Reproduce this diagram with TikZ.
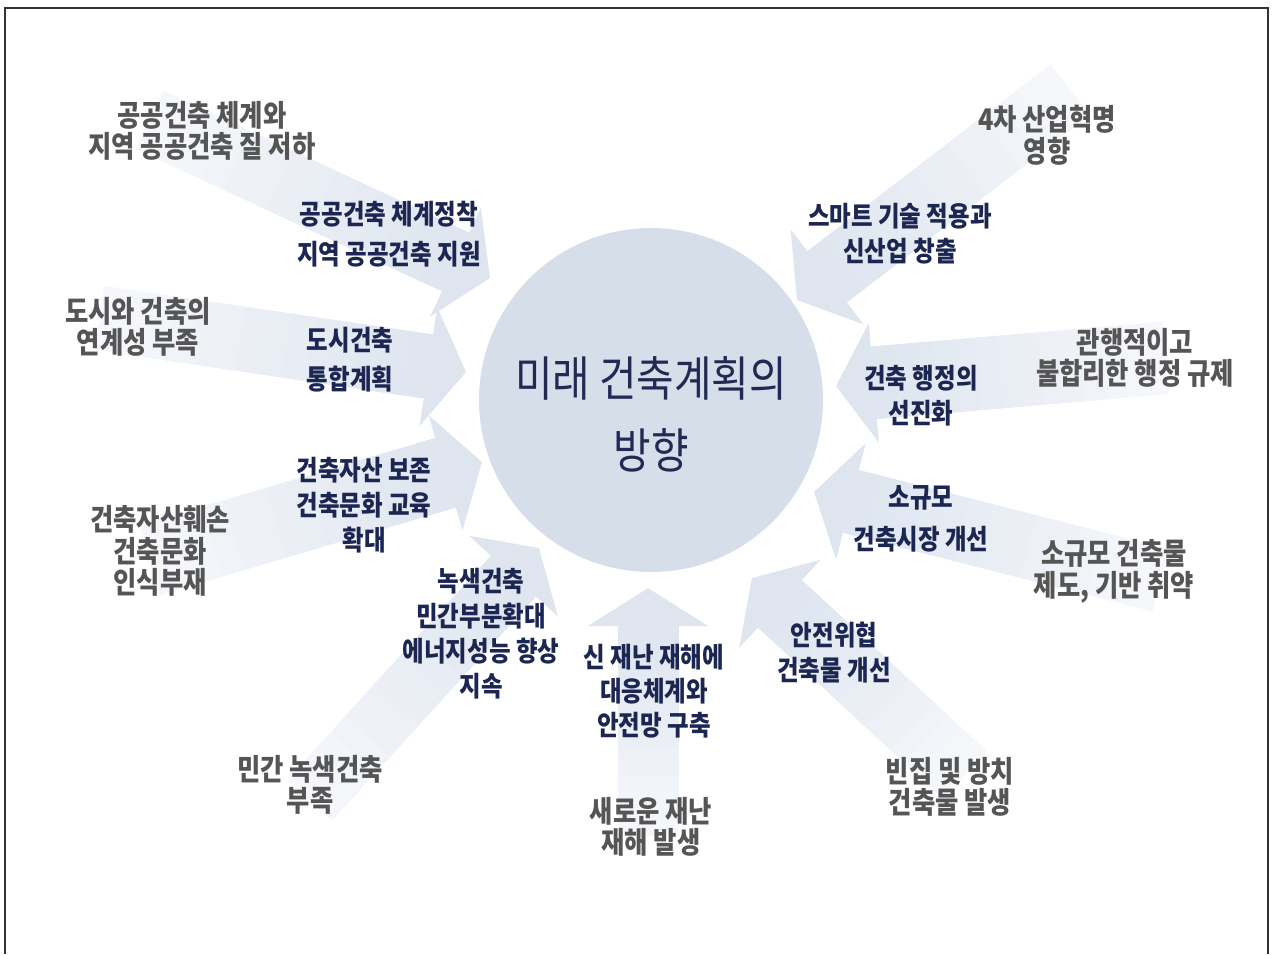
\documentclass[tikz,border=0pt]{standalone}
\usepackage{fontspec}
\newfontfamily\kr[FakeStretch=0.85]{Noto Sans CJK KR}
\usetikzlibrary{calc}
\definecolor{arrhead}{RGB}{222,229,239}
\definecolor{arrtail}{RGB}{246,248,251}
\definecolor{circ}{RGB}{214,222,234}
\definecolor{outc}{RGB}{85,85,85}
\definecolor{innc}{RGB}{28,38,82}
\definecolor{cenc}{RGB}{32,42,82}
% #1 half shaft width, #2 tail coordinate, #3 tip coordinate
\newcommand\bigarrow[3][16pt]{%
  \coordinate (tmpB) at ($(#3)!19pt!(#2)$);
  \fill[arrhead] ($(tmpB)!#1!90:(#3)$) -- ($(tmpB)!30pt!90:(#3)$) -- (#3)
    -- ($(tmpB)!30pt!-90:(#3)$) -- ($(tmpB)!#1!-90:(#3)$) -- cycle;
  \foreach \k in {0,...,13} {
    \pgfmathsetmacro\ka{\k/14}%
    \pgfmathsetmacro\kb{(\k+1)/14}%
    \pgfmathsetmacro\pc{100*(\k+0.5)/14}%
    \coordinate (sa) at ($(#2)!\ka!(tmpB)$);
    \coordinate (sb) at ($(#2)!\kb!(tmpB)$);
    \fill[arrhead!\pc!arrtail, draw=arrhead!\pc!arrtail, line width=0.4pt]
      ($(sa)!#1!90:(#3)$) -- ($(sb)!#1!90:(#3)$) -- ($(sb)!#1!-90:(#3)$) -- ($(sa)!#1!-90:(#3)$) -- cycle;
  }
}
\tikzset{
  outer/.style={font=\kr\bfseries\fontsize{14.9}{15.8}\selectfont, text=outc, align=center, inner sep=0pt},
  inner/.style={font=\kr\bfseries\fontsize{13.8}{17.5}\selectfont, text=innc, align=center, inner sep=0pt},
}
\begin{document}
\begin{tikzpicture}[x=0.5pt,y=-0.5pt]
\useasboundingbox (0,0) rectangle (1272,954);
\draw[line width=1pt, black!80] (5,954) -- (5,8) -- (1268,8) -- (1268,954);
% arrow ends
\coordinate (t1) at (150,120);  \coordinate (p1) at (490,278);
\coordinate (t2) at (100,318);  \coordinate (p2) at (466,372);
\coordinate (t3) at (150,560);  \coordinate (p3) at (482,462);
\coordinate (t4) at (310,800);  \coordinate (p4) at (539,548);
\coordinate (t5) at (648,835);  \coordinate (p5) at (648,588);
\coordinate (t6) at (965,775);  \coordinate (p6) at (752,578);
\coordinate (t7) at (1160,580); \coordinate (p7) at (814,492);
\coordinate (t8) at (1165,358); \coordinate (p8) at (836,386);
\coordinate (t9) at (1070,90);  \coordinate (p9) at (797,300);
\bigarrow{t1}{p1}
\bigarrow{t2}{p2}
\bigarrow[18pt]{t3}{p3}
\bigarrow[15pt]{t4}{p4}
\bigarrow[15pt]{t5}{p5}
\bigarrow{t6}{p6}
\bigarrow{t7}{p7}
\bigarrow[18pt]{t8}{p8}
\bigarrow{t9}{p9}
% centre
\node[circle, fill=circ, minimum size=172pt, inner sep=0pt] (c) at (651,400) {};
\node[font=\kr\fontsize{24}{36}\selectfont, text=cenc, align=center] (ct) at (651,414) {미래 건축계획의\\방향};
% outer texts
\node[outer] (o1) at (202,131) {공공건축 체계와\\지역 공공건축 질 저하};
\node[outer] (o2) at (138,327) {도시와 건축의\\연계성 부족};
\node[outer] (o3) at (160,551) {건축자산훼손\\건축문화\\인식부재};
\node[outer] (o4) at (310,785) {민간 녹색건축\\부족};
\node[outer] (o5) at (651,827) {새로운 재난\\재해 발생};
\node[outer] (o6) at (950,787) {빈집 및 방치\\건축물 발생};
\node[outer] (o7) at (1114,571) {소규모 건축물\\제도, 기반 취약};
\node[outer] (o8) at (1135,358) {관행적이고\\불합리한 행정 규제};
\node[outer] (o9) at (1047,135) {4차 산업혁명\\영향};
% inner texts
\node[inner, font=\kr\bfseries\fontsize{13.8}{20}\selectfont] (i1) at (389,234) {공공건축 체계정착\\지역 공공건축 지원};
\node[inner, font=\kr\bfseries\fontsize{13.8}{19.5}\selectfont] (i2) at (350,360) {도시건축\\통합계획};
\node[inner] (i3) at (364,505) {건축자산 보존\\건축문화 교육\\확대};
\node[inner] (i4) at (481,634) {녹색건축\\민간부분확대\\에너지성능 향상\\지속};
\node[inner, font=\kr\bfseries\fontsize{13.8}{17}\selectfont] (i5) at (654,691) {신 재난 재해에\\대응체계와\\안전망 구축};
\node[inner] (i6) at (834,653) {안전위협\\건축물 개선};
\node[inner, font=\kr\bfseries\fontsize{13.8}{21}\selectfont] (i7) at (921,519) {소규모\\건축시장 개선};
\node[inner] (i8) at (921,396) {건축 행정의\\선진화};
\node[inner] (i9) at (900,234) {스마트 기술 적용과\\신산업 창출};
\end{tikzpicture}
\end{document}
